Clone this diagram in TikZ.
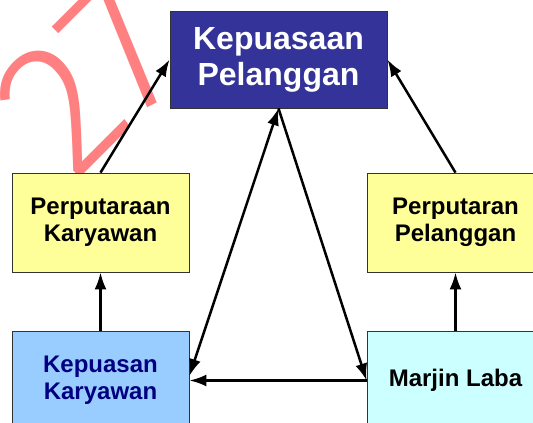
\documentclass[tikz,border=0pt]{standalone}
\usepackage{fontspec}
\setmainfont{Liberation Sans}
\newfontfamily\markfont{Fira Sans Light}
\usetikzlibrary{arrows.meta}
\definecolor{titleblue}{RGB}{51,51,153}
\definecolor{paleyellow}{RGB}{255,255,153}
\definecolor{skyblue}{RGB}{153,204,255}
\definecolor{palecyan}{RGB}{204,255,255}
\definecolor{navytext}{RGB}{0,0,128}
\definecolor{markpink}{RGB}{255,128,128}

\begin{document}
\begin{tikzpicture}[x=1pt, y=-1pt,
    box/.style={draw=black!80, line width=0.8pt, align=center, inner sep=0pt,
      font=\bfseries\fontsize{24}{27}\selectfont, minimum width=177pt, minimum height=99pt},
    tip/.style={Latex[length=17pt,width=12pt]},
    arr/.style={-{Latex[length=17pt,width=12pt]}, line width=2.5pt}]
      \useasboundingbox (0,0) rectangle (533,423);
      \clip (0,0) rectangle (533,423);

      % watermark
      \node[text=markpink, rotate=45, inner sep=0pt, font=\markfont\fontsize{190}{190}\selectfont] (mark) at (90,78) {27};

      \node[box, fill=titleblue, text=white, minimum width=217pt, minimum height=97pt, font=\bfseries\fontsize{32}{36}\selectfont] (kepuasanP) at (278.5,59.5) {Kepuasaan\\Pelanggan};

      \node[box, fill=paleyellow] (putarK) at (100.5,222.5) {Perputaraan\\Karyawan};
      \node[box, fill=paleyellow] (putarP) at (455.5,222.5) {Perputaran\\Pelanggan};

      \node[box, fill=skyblue, text=navytext] (kepuasanK) at (100.5,380.5) {Kepuasan\\Karyawan};
      \node[box, fill=palecyan] (marjin) at (455.5,380.5) {Marjin Laba};

      \draw[arr] (putarK.north) -- (kepuasanP.west);
      \draw[arr] (putarP.north) -- (kepuasanP.east);
      \draw[arr] (kepuasanK.north) -- (putarK.south);
      \draw[arr] (marjin.north) -- (putarP.south);
      \draw[arr, {Latex[length=17pt,width=12pt]}-{Latex[length=17pt,width=12pt]}] ([yshift=4.5pt]kepuasanK.east) -- (kepuasanP.south);
      \draw[arr] (kepuasanP.south) -- (marjin.west);
      \draw[arr] (marjin.west) -- (kepuasanK.east);
    \end{tikzpicture}
\end{document}
